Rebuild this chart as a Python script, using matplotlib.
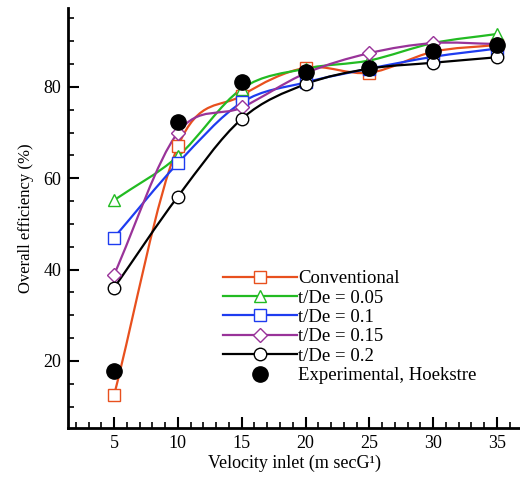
import matplotlib
matplotlib.use('Agg')
import matplotlib.pyplot as plt
from matplotlib.path import Path
from matplotlib.patches import PathPatch
from matplotlib.lines import Line2D
import numpy as np

plt.rcParams['font.family'] = ['Liberation Serif', 'DejaVu Serif']

velocity = [5, 10, 15, 20, 25, 30, 35]
conventional = [12.5, 67.0, 78.1, 84.2, 83.1, 87.7, 89.2]
t005 = [55.2, 64.8, 79.6, 84.0, 85.8, 89.6, 91.6]
t01 = [47.0, 63.3, 76.6, 81.0, 84.0, 86.6, 88.4]
t015 = [38.9, 70.0, 75.5, 83.0, 87.4, 89.6, 89.4]
t02 = [36.0, 56.0, 73.0, 80.6, 84.0, 85.3, 86.5]
experimental = [17.8, 72.3, 81.0, 83.2, 84.2, 87.8, 89.2]

labels = ['Conventional', 't/De = 0.05', 't/De = 0.1', 't/De = 0.15', 't/De = 0.2']
colors = ['#E8501E', '#22BB22', '#1E3CF0', '#993399', 'black']
markers = ['s', '^', 's', 'D', 'o']
sizes = [8, 9, 8, 7, 9]


def smooth_path(x, y):
    # catmull-rom through the points, drawn as cubic bezier pieces
    p = np.column_stack([x, y]).astype(float)
    ext = np.vstack([2*p[0] - p[1], p, 2*p[-1] - p[-2]])
    verts = [p[0]]
    codes = [Path.MOVETO]
    for i in range(1, len(ext) - 2):
        c1 = ext[i] + (ext[i+1] - ext[i-1]) / 6
        c2 = ext[i+1] - (ext[i+2] - ext[i]) / 6
        verts += [c1, c2, ext[i+1]]
        codes += [Path.CURVE4] * 3
    return Path(verts, codes)


fig = plt.figure(figsize=(5.2, 4.96), dpi=100)
ax = fig.add_axes([0.131, 0.137, 0.869, 0.847])

handles = []
series = [conventional, t005, t01, t015, t02]
for ys, lab, c, m, s in zip(series, labels, colors, markers, sizes):
    ax.add_patch(PathPatch(smooth_path(velocity, ys), fill=False,
                           edgecolor=c, lw=1.6, zorder=2))
    ax.plot(velocity, ys, ls='none', marker=m, ms=s,
            mfc='white', mec=c, mew=1.0, zorder=3)
    handles.append(Line2D([], [], color=c, lw=1.6, marker=m, ms=s,
                          mfc='white', mec=c, mew=1.0))

ax.plot(velocity, experimental, ls='none', marker='o', ms=11,
        mfc='black', mec='black', zorder=4)
handles.append(Line2D([], [], ls='none', marker='o', ms=11,
                      mfc='black', mec='black'))

ax.set_xlim(1.4, 36.8)
ax.set_ylim(5.3, 97.3)
ax.set_xticks([5, 10, 15, 20, 25, 30, 35])
ax.set_xticks(np.arange(2, 37, 1), minor=True)
ax.set_yticks([20, 40, 60, 80])
ax.set_yticks(np.arange(10, 97, 5), minor=True)
ax.tick_params(which='major', direction='in', length=8, width=1.5,
               labelsize=13, pad=5)
ax.tick_params(which='minor', direction='in', length=4, width=1.2)
for side in ['top', 'right']:
    ax.spines[side].set_visible(False)
for side in ['left', 'bottom']:
    ax.spines[side].set_linewidth(2)

ax.set_xlabel('Velocity inlet (m secG\u00b9)', fontsize=13, labelpad=2)
ax.set_ylabel('Overall efficiency (%)', fontsize=12, labelpad=7)

leg = ax.legend(handles, labels + ['Experimental, Hoekstre'], loc='upper left',
                bbox_to_anchor=(0.343, 0.376), frameon=False, fontsize=13.5,
                handlelength=3.95, handletextpad=0.05, labelspacing=0.12,
                borderpad=0, borderaxespad=0)

fig.savefig('out.png', dpi=100)
